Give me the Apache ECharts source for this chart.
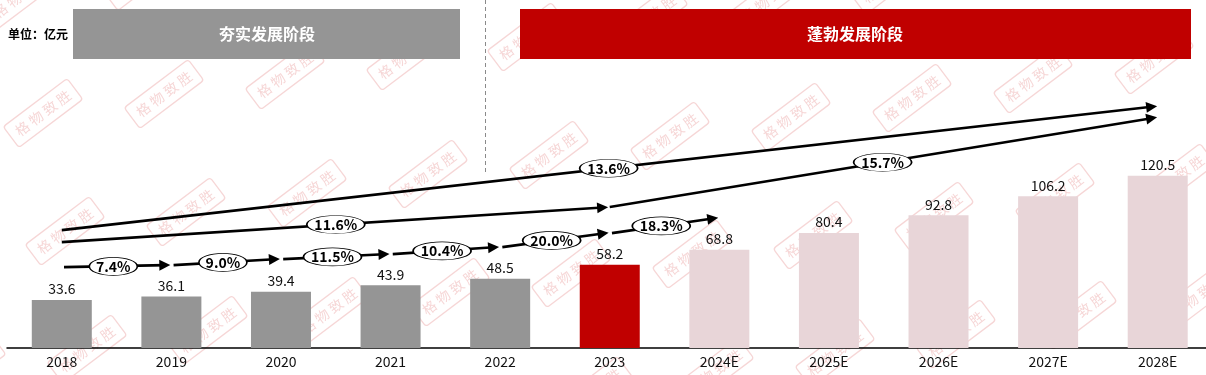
<!DOCTYPE html>
<html>
<head>
<meta charset="utf-8">
<script src="https://cdn.jsdelivr.net/npm/echarts@6/dist/echarts.min.js"></script>
<style>
html,body{margin:0;padding:0;background:#fff;}
#chart{width:1206px;height:375px;}
</style>
</head>
<body>
<div id="chart"></div>
<script>
// ---------------- DATA ----------------
const categories = ['2018', '2019', '2020', '2021', '2022', '2023', '2024E', '2025E', '2026E', '2027E', '2028E'];
const marketSize = [33.6, 36.1, 39.4, 43.9, 48.5, 58.2, 68.8, 80.4, 92.8, 106.2, 120.5];
const phase = ['hist', 'hist', 'hist', 'hist', 'hist', 'base', 'est', 'est', 'est', 'est', 'est'];
const yoyGrowth = ['7.4%', '9.0%', '11.5%', '10.4%', '20.0%', '18.3%'];
const cagr2018to2023 = '11.6%';
const cagr2023to2028 = '15.7%';
const cagr2018to2028 = '13.6%';
const headerLabels = ['夯实发展阶段', '蓬勃发展阶段'];
const unitLabel = '单位：亿元';
const watermarkText = '格物致胜';

// ---------------- LAYOUT (annotation placement in axis units) ----------------
const LAYOUT = {
  yoyLevels: [56.6, 58.0, 62.2, 65.7, 70.6, 80.4, 90.9],
  midLine: [[0, 74.1], [4.98, 98.6], [5.0, 98.6], [9.99, 161.5]],
  topLine: [[0, 82.5], [9.99, 169.2]],
  arrowBack: 0.045
};
const FONT = '"Noto Sans CJK SC", "Noto Sans", sans-serif';
const COLORS = { hist: '#959595', base: '#C00000', est: '#E8D5D8' };

// build arrow segments
const arrowSegs = [];
const ellipses = [];
const yl = LAYOUT.yoyLevels;
for (let k = 0; k < yoyGrowth.length; k++) {
  const x0 = k + 0.02, x1 = k + 0.985 - LAYOUT.arrowBack;
  const y0 = yl[k], y1 = yl[k + 1];
  arrowSegs.push({ coords: [[x0, y0], [x1, y1 - (y1 - y0) * 0.03]] });
  ellipses.push([k + 0.47, (y0 + y1) / 2 - 0.2, yoyGrowth[k]]);
}
const ml = LAYOUT.midLine, tl = LAYOUT.topLine;
arrowSegs.push({ coords: [ml[0], [ml[1][0] - LAYOUT.arrowBack, ml[1][1] - 0.3]] });
arrowSegs.push({ coords: [ml[2], [ml[3][0] - LAYOUT.arrowBack, ml[3][1] - 0.7]] });
arrowSegs.push({ coords: [tl[0], [tl[1][0] - LAYOUT.arrowBack, tl[1][1] - 0.4]] });
function lerp(p, q, x) { return p[1] + (q[1] - p[1]) * (x - p[0]) / (q[0] - p[0]); }
ellipses.push([2.5, lerp(ml[0], ml[1], 2.5), cagr2018to2023]);
ellipses.push([7.49, lerp(ml[2], ml[3], 7.49), cagr2023to2028]);
ellipses.push([4.99, lerp(tl[0], tl[1], 4.99), cagr2018to2028]);

// watermarks (decoration)
const marks = [];
for (let i = -2; i < 12; i++) {
  for (let j = -1; j < 4; j++) {
    const x = 43 + i * 121 + j * 22;
    const y = 113 - i * 19 + j * 118;
    if (x < -60 || x > 1270 || y < -40 || y > 420) continue;
    marks.push({
      type: 'group', x: x, y: y, rotation: 37 * Math.PI / 180, z: 100, silent: true,
      children: [
        { type: 'rect', shape: { x: -40, y: -13, width: 80, height: 26, r: 3 },
          style: { fill: 'none', stroke: 'rgba(226,120,120,0.3)', lineWidth: 1.3 } },
        { type: 'text', style: { text: watermarkText.split('').join(' '), x: 0, y: 0, align: 'center', verticalAlign: 'middle',
          fill: 'rgba(226,120,120,0.3)', font: '14px ' + FONT } }
      ]
    });
  }
}

const chart = echarts.init(document.getElementById('chart'), null, { renderer: 'canvas' });
chart.setOption({
  animation: false,
  backgroundColor: '#fff',
  textStyle: { fontFamily: FONT },
  grid: { left: 7, top: 5, bottom: 27, width: 1205.5, containLabel: false, outerBoundsMode: 'none' },
  xAxis: [{
    type: 'category', data: categories,
    axisLine: { lineStyle: { color: '#000', width: 1.5 } },
    axisTick: { show: false },
    axisLabel: { color: '#111', fontSize: 14, margin: 7, fontFamily: FONT }
  }, {
    type: 'value', min: -0.5, max: 10.5, show: false
  }],
  yAxis: [{ type: 'value', min: 0, max: 240, show: false, splitLine: { show: false } }],
  series: [{
    type: 'bar', xAxisIndex: 0, yAxisIndex: 0,
    barWidth: 60,
    data: marketSize.map((v, i) => ({ value: v, itemStyle: { color: COLORS[phase[i]] } })),
    label: { show: true, position: 'top', distance: 4, color: '#111', fontSize: 14, fontFamily: FONT },
    z: 2
  }, {
    type: 'lines', coordinateSystem: 'cartesian2d', xAxisIndex: 1, yAxisIndex: 0,
    symbol: ['none', 'triangle'], symbolSize: 11,
    lineStyle: { color: '#000', width: 2.6, opacity: 1, curveness: 0 },
    data: arrowSegs, z: 5, silent: true
  }, {
    type: 'scatter', xAxisIndex: 1, yAxisIndex: 0,
    symbol: 'circle',
    symbolSize: (v) => [String(v[2]).length > 4 ? 58 : 48, 18],
    itemStyle: { color: '#fff', borderColor: '#000', borderWidth: 1, opacity: 1 },
    label: { show: true, position: 'inside', formatter: p => p.value[2], color: '#000', fontSize: 14, fontWeight: 'bold', fontFamily: FONT },
    data: ellipses, z: 6, silent: true
  }],
  graphic: [
    { type: 'rect', shape: { x: 73, y: 9, width: 387, height: 50 }, style: { fill: '#959595' }, z: 1 },
    { type: 'text', style: { text: headerLabels[0], x: 267, y: 34, align: 'center', verticalAlign: 'middle', fill: '#fff', font: 'bold 16px ' + FONT }, z: 2 },
    { type: 'rect', shape: { x: 520, y: 9, width: 671, height: 50 }, style: { fill: '#C00000' }, z: 1 },
    { type: 'text', style: { text: headerLabels[1], x: 855, y: 34, align: 'center', verticalAlign: 'middle', fill: '#fff', font: 'bold 16px ' + FONT }, z: 2 },
    { type: 'text', style: { text: unitLabel, x: 8, y: 34, align: 'left', verticalAlign: 'middle', fill: '#000', font: 'bold 12px ' + FONT }, z: 2 },
    { type: 'line', shape: { x1: 485.5, y1: 0, x2: 485.5, y2: 173 }, style: { stroke: '#8a8a8a', lineWidth: 1, lineDash: [4, 3] }, z: 1 }
  ].concat(marks)
});
</script>
</body>
</html>
